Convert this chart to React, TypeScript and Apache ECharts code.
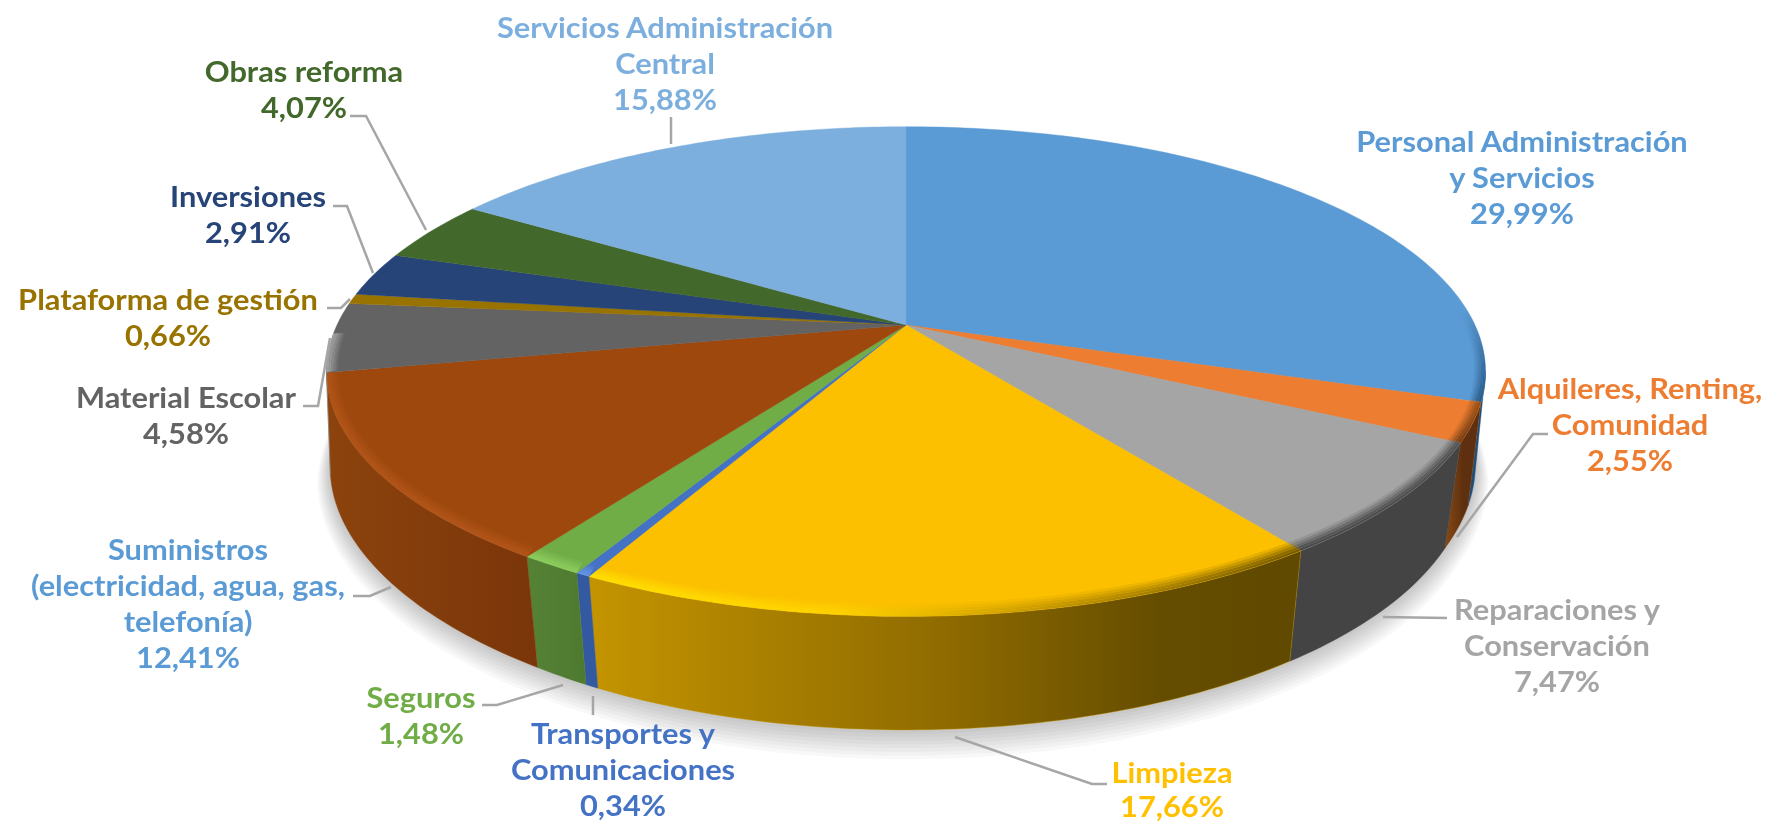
import React, { useEffect, useRef } from "react";
import * as echarts from "echarts";

const categories = [
  "Personal Administración\ny Servicios",
  "Alquileres, Renting,\nComunidad",
  "Reparaciones y\nConservación",
  "Limpieza",
  "Transportes y\nComunicaciones",
  "Seguros",
  "Suministros\n(electricidad, agua, gas,\ntelefonía)",
  "Material Escolar",
  "Plataforma de gestión",
  "Inversiones",
  "Obras reforma",
  "Servicios Administración\nCentral",
];
const values = [29.99, 2.55, 7.47, 17.66, 0.34, 1.48, 12.41, 4.58, 0.66, 2.91, 4.07, 15.88];

const topColors = ["#5b9bd5", "#ed7d31", "#a5a5a5", "#fcc000", "#4472c4", "#70ad47", "#9e480e", "#636363", "#997300", "#264478", "#43682b", "#7cafdd"];
const labelColors = ["#5b9bd5", "#ed7d31", "#a5a5a5", "#ffc000", "#4472c4", "#70ad47", "#5b9bd5", "#636363", "#997300", "#264478", "#43682b", "#7cafdd"];
const sideStops: [number, string][][] = [
  [[0, "#1f4e79"], [1, "#1f4e79"]],
  [[0, "#8a4a12"], [0.5, "#5e3010"], [1, "#5e3010"]],
  [[0, "#444444"], [1, "#444444"]],
  [[0, "#c49400"], [0.5, "#8f6b00"], [0.8, "#654d00"], [1, "#604900"]],
  [[0, "#3359a0"], [1, "#3359a0"]],
  [[0, "#558235"], [1, "#4e7a30"]],
  [[0, "#8c430d"], [1, "#7a350a"]],
  [[0, "#8a8a8a"], [1, "#8a8a8a"]],
  [[0, "#735600"], [1, "#735600"]],
  [[0, "#1c335a"], [1, "#1c335a"]],
  [[0, "#324e20"], [1, "#324e20"]],
  [[0, "#5d83a6"], [1, "#5d83a6"]],
];
const bevelStops: ([number, string][] | null)[] = [
  null,
  [[0, "#5e3010"], [1, "#8a4a12"]],
  [[0, "#3a3a3a"], [1, "#444444"]],
  [[0, "#ffe400"], [0.35, "#ffd400"], [0.6, "#c89a00"], [1, "#5f4900"]],
  [[0, "#6a98e8"], [1, "#6a98e8"]],
  [[0, "#90d060"], [1, "#90d060"]],
  [[0, "#b4561a"], [1, "#b4561a"]],
  [[0, "#a8a8a8"], [1, "#a8a8a8"]],
  null,
  null,
  null,
  null,
];

const CX = 906, CY = 325, R = 569, H = 236, P = 0.19;
const BCY = 425, BR = 553, BH = 247;
const RAD = Math.PI / 180;
const VIS_FROM = 100.9, VIS_TO = 259.1;

const project = (deg: number, cy: number, rx: number, ry: number): number[] => {
  const s = Math.sin(deg * RAD), c = Math.cos(deg * RAD);
  const k = 1 / (1 + P * c);
  return [CX + rx * s * k, cy - ry * c * k];
};
const arc = (a: number, b: number, inset = 0): number[][] => {
  const pts: number[][] = [];
  const n = Math.max(2, Math.ceil(Math.abs(b - a)));
  for (let i = 0; i <= n; i++) {
    const [x, y] = project(a + ((b - a) * i) / n, CY, R, H);
    pts.push([CX + (x - CX) * (1 - 0.02 * inset), CY + (y - CY) * (1 - 0.045 * inset)]);
  }
  return pts;
};
// the lower rim bulges a little towards the two ends of the visible wall
const bottomRx = (deg: number): number => {
  const d = ((deg % 360) + 360) % 360;
  if (d > 214 && d < 300) return BR + (Math.min(d, 259) - 214) * 0.27;
  if (d < 117 && d > 60) return BR + (117 - Math.max(d, 100)) * 0.35;
  return BR;
};
const bottomArc = (a: number, b: number, grow = 0): number[][] => {
  const pts: number[][] = [];
  const n = Math.max(2, Math.ceil(Math.abs(b - a)));
  for (let i = 0; i <= n; i++) {
    const d = a + ((b - a) * i) / n;
    pts.push(project(d, BCY + grow * 1.2, bottomRx(d) + grow * 1.6, BH + grow * 2));
  }
  return pts;
};
const total = values.reduce((s, v) => s + v, 0);
const startAngles: number[] = [];
values.reduce((acc, v) => { startAngles.push((acc / total) * 360); return acc + v; }, 0);

const grad = (stops: [number, string][]) =>
  new echarts.graphic.LinearGradient(0, 0, 1, 0, stops.map(([offset, color]) => ({ offset, color })));
const personalBevel = () =>
  new echarts.graphic.LinearGradient(0, 0, 0, 1, [
    { offset: 0, color: "rgba(31,78,121,0)" },
    { offset: 0.45, color: "rgba(31,78,121,0.55)" },
    { offset: 1, color: "rgba(31,78,121,1)" },
  ]);

const bandEdges = [1, 0.8, 0.6, 0.4, 0.2, 0];
const bandAlpha = [0.15, 0.35, 0.55, 0.75, 0.85];

const renderSlice = (params: any) => {
  const i = params.dataIndex;
  const a = startAngles[i];
  const b = a + (values[i] / total) * 360;
  const children: any[] = [];
  const sa = Math.max(a, VIS_FROM), sb = Math.min(b, VIS_TO);
  if (sb > sa) {
    children.push({
      type: "polygon",
      shape: { points: [...arc(sa, sb), ...bottomArc(sb, sa)] },
      style: { fill: grad(sideStops[i]), stroke: sideStops[i][0][1], lineWidth: 0.4 },
    });
  }
  children.push({
    type: "polygon",
    shape: { points: [[CX, CY], ...arc(a, b)] },
    style: { fill: topColors[i], stroke: topColors[i], lineWidth: 0.4 },
  });
  const isPersonal = i === 0;
  const ba = Math.max(a, isPersonal ? 86 : 92), bb = Math.min(b, 268);
  if ((bevelStops[i] || isPersonal) && bb > ba) {
    bandAlpha.forEach((opacity, j) => {
      children.push({
        type: "polygon",
        shape: { points: [...arc(ba, bb, bandEdges[j]), ...arc(bb, ba, bandEdges[j + 1])] },
        style: { fill: isPersonal ? personalBevel() : grad(bevelStops[i] as [number, string][]), opacity },
      });
    });
  }
  return { type: "group", children };
};

const labelCenters = [
  [1522, 141], [1630, 388], [1557, 609], [1172, 772], [623, 733], [421, 697],
  [188, 549], [186, 397], [168, 299], [248, 196], [304, 71], [665, 27],
];
const labelSpacing = [36, 36, 36, 34, 36, 36, 36, 36, 36, 36, 36, 36];
const leaders = [
  null,
  [[1548, 434], [1533, 434], [1457, 537]],
  [[1383, 617], [1447, 618]],
  [[955, 737], [1092, 784], [1107, 784]],
  [[593, 696], [593, 715]],
  [[482, 705], [497, 705], [563, 685]],
  [[353, 596], [370, 596], [391, 587]],
  [[303, 406], [318, 406], [330, 338]],
  [[327, 308], [341, 308], [350, 299]],
  [[333, 206], [347, 206], [373, 273]],
  [[350, 116], [366, 116], [426, 230]],
  [[671, 117], [671, 144]],
];
const FONT = "bold 28px Lato";
const shadowLayers = [8, 7, 6, 5, 4, 3, 2, 1];

export default function App() {
  const ref = useRef<HTMLDivElement>(null);
  useEffect(() => {
    document.body.style.margin = "0";
    const chart = echarts.init(ref.current!, null, { renderer: "svg" });
    const graphic: any[] = [];
    leaders.forEach((pts) => {
      if (pts) graphic.push({ type: "polyline", silent: true, shape: { points: pts }, style: { stroke: "#a6a6a6", lineWidth: 2.5, fill: "none" }, z: 5 });
    });
    categories.forEach((name, i) => {
      const [x, y] = labelCenters[i];
      const pct = values[i].toFixed(2).replace(".", ",") + "%";
      const lines = [...name.split("\n"), pct];
      lines.forEach((text, j) => {
        graphic.push({
          type: "text", silent: true, x, y: y + j * labelSpacing[i], scaleX: 1.1, z: 6,
          style: { text, font: FONT, fill: labelColors[i], align: "center", verticalAlign: "middle" },
        });
      });
    });
    chart.setOption({
      animation: false,
      backgroundColor: "#ffffff",
      graphic,
      series: [
        {
          type: "custom",
          coordinateSystem: "none",
          silent: true,
          z: 1,
          data: shadowLayers,
          renderItem: (params: any) => ({
            type: "polygon",
            shape: { points: bottomArc(0, 360, shadowLayers[params.dataIndex]) },
            style: { fill: "#000000", opacity: 0.028 },
          }),
        },
        {
          type: "custom",
          coordinateSystem: "none",
          silent: true,
          z: 2,
          data: values,
          renderItem: renderSlice,
        },
      ],
    });
    return () => chart.dispose();
  }, []);
  return <div ref={ref} style={{ width: 1769, height: 824, filter: "blur(0.5px)" }} />;
}
